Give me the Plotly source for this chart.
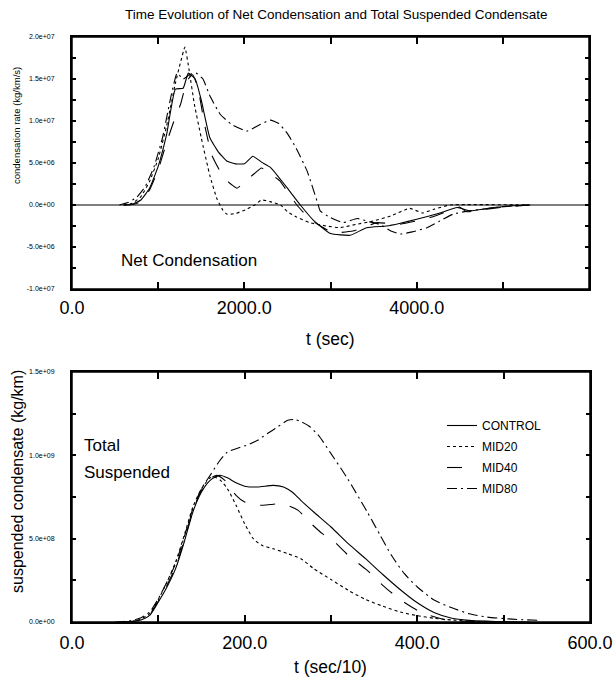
import plotly.graph_objects as go

# ---------------- data: top panel (net condensation, kg/km/s vs t in sec) ----------------
ctrl_t = [600, 700, 800, 900, 1000, 1100, 1200, 1290, 1350, 1430, 1500, 1600, 1700, 1800, 1900, 2000,
          2100, 2200, 2300, 2400, 2500, 2650, 2800, 3000, 3230, 3420, 3650, 3800, 4000, 4270, 4470,
          4620, 4890, 5100, 5320]
ctrl_rate = [0, 0.1e6, 0.6e6, 2.0e6, 4.6e6, 8.5e6, 1.38e7, 1.39e7, 1.57e7, 1.5e7, 1.25e7, 8.0e6, 6.3e6,
             5.2e6, 4.9e6, 4.9e6, 5.8e6, 5.1e6, 4.5e6, 3.3e6, 2.0e6, 0, -1.8e6, -3.4e6, -3.6e6, -2.7e6,
             -2.5e6, -2.2e6, -1.7e6, -0.95e6, -0.3e6, -0.7e6, -0.3e6, -0.1e6, 0]

mid20_t = [600, 700, 800, 900, 1000, 1100, 1200, 1260, 1310, 1360, 1420, 1500, 1600, 1680, 1750, 1800,
           1900, 2030, 2120, 2200, 2300, 2420, 2500, 2600, 2760, 2950, 3110, 3300, 3500, 3700, 3920,
           4070, 4200, 4390, 5300]
mid20_rate = [0, 0.2e6, 1.0e6, 2.8e6, 5.5e6, 9.5e6, 1.45e7, 1.7e7, 1.88e7, 1.6e7, 1.2e7, 8.0e6, 3.5e6,
              0.8e6, -0.6e6, -1.1e6, -1.0e6, -0.5e6, 0, 0.6e6, 0.4e6, 0.0, -0.8e6, -1.4e6, -2.1e6,
              -2.5e6, -2.7e6, -2.3e6, -1.9e6, -1.3e6, -0.4e6, -0.95e6, -0.5e6, 0, 0]

mid40_t = [600, 700, 800, 900, 1000, 1100, 1200, 1260, 1335, 1400, 1460, 1540, 1620, 1720, 1820, 1915,
           2000, 2100, 2200, 2300, 2410, 2500, 2610, 2760, 2900, 3030, 3260, 3400, 3540, 3800, 4000,
           4190, 4400, 4500, 4580, 4800, 4970, 5300]
mid40_rate = [0, 0.05e6, 0.4e6, 1.8e6, 4.2e6, 7.5e6, 1.05e7, 1.2e7, 1.48e7, 1.55e7, 1.4e7, 9.5e6, 6.0e6,
              4.0e6, 2.7e6, 2.0e6, 2.7e6, 3.6e6, 4.4e6, 3.7e6, 2.9e6, 1.6e6, 0, -1.7e6, -2.6e6, -3.3e6,
              -3.1e6, -2.6e6, -2.1e6, -2.3e6, -1.9e6, -1.4e6, -0.6e6, -0.25e6, -0.8e6, -0.5e6, -0.3e6, 0]

mid80_t = [550, 650, 750, 850, 950, 1050, 1150, 1220, 1290, 1360, 1440, 1520, 1600, 1720, 1850, 2030,
           2150, 2300, 2400, 2500, 2600, 2730, 2855, 2880, 3000, 3145, 3310, 3450, 3570, 3700, 3810,
           3950, 4120, 4270, 4420, 4600, 4770, 5000, 5300]
mid80_rate = [0, 0.3e6, 0.9e6, 2.2e6, 4.5e6, 8.0e6, 1.3e7, 1.57e7, 1.5e7, 1.55e7, 1.57e7, 1.5e7, 1.3e7,
              1.08e7, 9.6e6, 8.8e6, 9.4e6, 1.01e7, 9.7e6, 8.5e6, 6.8e6, 4.0e6, 0.1e6, -0.7e6, -1.5e6,
              -2.1e6, -1.6e6, -2.0e6, -2.3e6, -3.1e6, -3.45e6, -3.2e6, -2.7e6, -1.9e6, -1.1e6, -0.7e6,
              -0.5e6, -0.2e6, 0]

# ---------------- data: bottom panel (total suspended condensate, kg/km vs t in sec/10) ----------------
ctrl_t2 = [60, 70, 80, 90, 100, 110, 120, 130, 140, 150, 160, 171, 180, 190, 200, 215, 233, 245, 255,
           265, 280, 300, 320, 340, 360, 380, 400, 420, 440, 460, 480, 500, 530]
ctrl_mass = [0, 0.3e7, 1.2e7, 4e7, 1.2e8, 2.1e8, 3.2e8, 4.8e8, 6.6e8, 7.8e8, 8.5e8, 8.8e8, 8.65e8,
             8.35e8, 8.15e8, 8.1e8, 8.2e8, 8.1e8, 7.8e8, 7.3e8, 6.6e8, 5.7e8, 4.7e8, 3.8e8, 2.85e8,
             1.95e8, 1.15e8, 5.5e7, 2.2e7, 1e7, 0.5e7, 0.2e7, 0]

mid20_t2 = [55, 70, 80, 90, 100, 110, 120, 130, 140, 150, 160, 165, 172, 180, 190, 200, 210, 220, 233,
            250, 265, 280, 300, 320, 340, 360, 380, 400, 420, 440, 470, 500]
mid20_mass = [0, 0.5e7, 1.8e7, 5e7, 1.35e8, 2.4e8, 3.6e8, 5.2e8, 6.9e8, 8.0e8, 8.65e8, 8.7e8, 8.5e8,
              8.0e8, 7.0e8, 5.9e8, 5.0e8, 4.6e8, 4.4e8, 4.1e8, 3.8e8, 3.2e8, 2.55e8, 1.9e8, 1.35e8,
              9.5e7, 6e7, 3.8e7, 2.2e7, 1.2e7, 0.3e7, 0]

mid40_t2 = [60, 70, 80, 90, 100, 110, 120, 130, 140, 150, 160, 168, 178, 190, 200, 214, 230, 241, 252,
            262, 275, 290, 302, 320, 342, 360, 380, 400, 411, 430, 450, 480, 500]
mid40_mass = [0, 0.3e7, 1.5e7, 4.5e7, 1.25e8, 2.2e8, 3.3e8, 4.9e8, 6.7e8, 7.9e8, 8.6e8, 8.8e8, 8.45e8,
              7.6e8, 7.2e8, 7.0e8, 7.05e8, 7.1e8, 6.95e8, 6.7e8, 6.0e8, 5.3e8, 4.9e8, 4.0e8, 3.1e8,
              2.2e8, 1.35e8, 7e7, 4.5e7, 1.6e7, 0.6e7, 0.2e7, 0]

mid80_t2 = [50, 60, 70, 80, 90, 100, 110, 120, 130, 140, 150, 160, 170, 180, 190, 202, 215, 226, 238,
            250, 258, 266, 276, 287, 300, 318, 342, 357, 370, 385, 400, 420, 440, 460, 480, 510, 540]
mid80_mass = [0, 0.3e7, 1e7, 2.5e7, 6e7, 1.4e8, 2.4e8, 3.5e8, 5.1e8, 6.8e8, 8.0e8, 8.8e8, 9.6e8,
              1.02e9, 1.04e9, 1.06e9, 1.09e9, 1.13e9, 1.17e9, 1.21e9, 1.215e9, 1.2e9, 1.17e9, 1.11e9,
              1.01e9, 8.7e8, 6.6e8, 5.2e8, 4.0e8, 2.9e8, 2.1e8, 1.3e8, 8.5e7, 5e7, 3e7, 1.7e7, 1.0e7]

# ---------------- ticks (blank labels mark the unlabelled intermediate ticks) ----------------
top_x_ticks = [0, 1000, 2000, 3000, 4000, 5000, 6000]
top_x_text = ["0.0", "", "2000.0", "", "4000.0", "", "6000.0"]
top_y_ticks = [-1e7, -7.5e6, -5e6, -2.5e6, 0, 2.5e6, 5e6, 7.5e6, 1e7, 1.25e7, 1.5e7, 1.75e7, 2e7]
top_y_text = ["-1.0e+07", "", "-5.0e+06", "", "0.0e+00", "", "5.0e+06", "", "1.0e+07", "",
              "1.5e+07", "", "2.0e+07"]
bot_x_ticks = [0, 100, 200, 300, 400, 500, 600]
bot_x_text = ["0.0", "", "200.0", "", "400.0", "", "600.0"]
bot_y_ticks = [0, 2.5e8, 5e8, 7.5e8, 1e9, 1.25e9, 1.5e9]
bot_y_text = ["0.0e+00", "", "5.0e+08", "", "1.0e+09", "", "1.5e+09"]

names = ["CONTROL", "MID20", "MID40", "MID80"]
dashes = ["solid", "dot", "longdash", "10px,4px,2px,4px"]

SANS = "Liberation Sans, Arial, Helvetica, sans-serif"

fig = go.Figure()

top_series = [(ctrl_t, ctrl_rate), (mid20_t, mid20_rate), (mid40_t, mid40_rate), (mid80_t, mid80_rate)]
bot_series = [(ctrl_t2, ctrl_mass), (mid20_t2, mid20_mass), (mid40_t2, mid40_mass), (mid80_t2, mid80_mass)]

for (t, v), name, d in zip(top_series, names, dashes):
    fig.add_trace(go.Scatter(x=t, y=v, mode="lines", name=name, showlegend=False,
                             line=dict(color="black", width=1.1, dash=d, shape="spline", smoothing=0.4),
                             xaxis="x", yaxis="y"))
for (t, v), name, d in zip(bot_series, names, dashes):
    fig.add_trace(go.Scatter(x=t, y=v, mode="lines", name=name, showlegend=True, legendgroup=name,
                             line=dict(color="black", width=1.1, dash=d, shape="spline", smoothing=0.6),
                             xaxis="x2", yaxis="y2"))

W, H = 613, 694
def px(x):
    return x / W
def py(y):
    return 1 - y / H

def axis(domain, anchor, rng, tv, tt, tlen, fsize, standoff):
    return dict(domain=domain, anchor=anchor, range=rng, automargin=False,
                showline=True, linecolor="#000000", linewidth=2, mirror="ticks",
                showgrid=False, zeroline=False,
                tickmode="array", tickvals=tv, ticktext=tt,
                ticks="inside", ticklen=tlen, tickcolor="#000000", tickwidth=2,
                tickfont=dict(size=fsize, family=SANS, color="black"),
                ticklabelstandoff=standoff)

TOP = dict(x0=px(72), x1=px(589), y0=py(289), y1=py(37))
BOT = dict(x0=px(72), x1=px(590), y0=py(622), y1=py(372))

frame = dict(type="rect", xref="paper", yref="paper", line=dict(color="black", width=1.5),
             fillcolor="rgba(0,0,0,0)", layer="above")

fig.update_layout(
    width=W, height=H,
    margin=dict(l=0, r=0, t=0, b=0, autoexpand=False),
    paper_bgcolor="white", plot_bgcolor="white",
    font=dict(family=SANS, color="black"),
    xaxis=axis([TOP["x0"], TOP["x1"]], "y", [0, 6000], top_x_ticks, top_x_text, 7, 18, 1),
    yaxis=axis([TOP["y0"], TOP["y1"]], "x", [-1e7, 2e7], top_y_ticks, top_y_text, 4, 7, 14),
    xaxis2=axis([BOT["x0"], BOT["x1"]], "y2", [0, 600], bot_x_ticks, bot_x_text, 7, 18, 3),
    yaxis2=axis([BOT["y0"], BOT["y1"]], "x2", [0, 1.5e9], bot_y_ticks, bot_y_text, 4, 7, 14),
    legend=dict(x=px(442), y=py(411), xanchor="left", yanchor="top",
                bgcolor="rgba(0,0,0,0)", borderwidth=0,
                font=dict(size=12, family=SANS), tracegroupgap=2, itemwidth=30),
    shapes=[
        dict(type="line", xref="x", yref="y", x0=0, x1=6000, y0=0, y1=0,
             line=dict(color="black", width=1.2)),
        dict(frame, **TOP),
        dict(frame, **BOT),
    ],
    annotations=[
        dict(text="Time Evolution of Net Condensation and Total Suspended Condensate",
             xref="paper", yref="paper", x=px(336), y=py(14), xanchor="center", yanchor="middle",
             showarrow=False, font=dict(size=13.5, family=SANS)),
        dict(text="condensation rate (kg/km/s)", xref="paper", yref="paper",
             x=px(17), y=py(126), xanchor="center", yanchor="middle", showarrow=False,
             textangle=-90, font=dict(size=9.5, family=SANS)),
        dict(text="suspended condensate (kg/km)", xref="paper", yref="paper",
             x=px(17), y=py(482), xanchor="center", yanchor="middle", showarrow=False,
             textangle=-90, font=dict(size=16, family=SANS)),
        dict(text="t (sec)", xref="paper", yref="paper", x=px(330), y=py(339), xanchor="center",
             yanchor="middle", showarrow=False, font=dict(size=17.5, family=SANS)),
        dict(text="t (sec/10)", xref="paper", yref="paper", x=px(330), y=py(667), xanchor="center",
             yanchor="middle", showarrow=False, font=dict(size=17.5, family=SANS)),
        dict(text="Net Condensation", xref="paper", yref="paper", x=px(119), y=py(260),
             xanchor="left", yanchor="middle", showarrow=False, font=dict(size=17, family=SANS)),
        dict(text="Total", xref="paper", yref="paper", x=px(82), y=py(445),
             xanchor="left", yanchor="middle", showarrow=False, font=dict(size=17, family=SANS)),
        dict(text="Suspended", xref="paper", yref="paper", x=px(82), y=py(472),
             xanchor="left", yanchor="middle", showarrow=False, font=dict(size=17, family=SANS)),
    ],
)

fig.write_html("out.html", config={"displayModeBar": False},
               post_script="document.body.style.margin='0';document.body.style.padding='0';")
